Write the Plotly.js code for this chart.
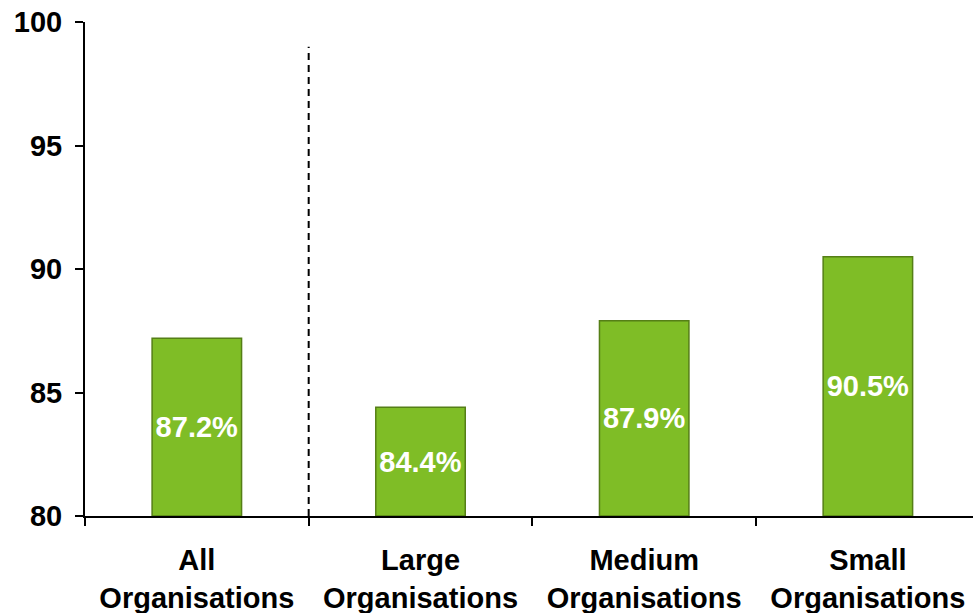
<!DOCTYPE html>
<html>
<head>
<meta charset="utf-8">
<script src="https://cdn.plot.ly/plotly-3.0.1.min.js"></script>
<style>html,body{margin:0;padding:0;background:#fff;}#chart{width:973px;height:613px;}</style>
</head>
<body>
<div id="chart"></div>
<script>
const categories = ["All<br>Organisations", "Large<br>Organisations", "Medium<br>Organisations", "Small<br>Organisations"];
const values = [87.2, 84.4, 87.9, 90.5];
const yTicks = [80, 85, 90, 95, 100];
const axisFloor = 80;

const font = "'Liberation Sans', Arial, sans-serif";

const trace = {
  type: "bar",
  x: categories,
  y: values.map(v => v - axisFloor),
  base: axisFloor,
  width: 0.4,
  marker: { color: "#7fbd26", line: { color: "#557f16", width: 1.5 } },
  text: values.map(v => v.toFixed(1) + "%"),
  textposition: "inside",
  insidetextanchor: "middle",
  textangle: 0,
  textfont: { family: font, size: 29, color: "#ffffff", weight: "bold" },
  hoverinfo: "skip"
};

const layout = {
  width: 973,
  height: 613,
  margin: { l: 85, r: 0, t: 22, b: 97 },
  paper_bgcolor: "#ffffff",
  plot_bgcolor: "#ffffff",
  showlegend: false,
  font: { family: font, color: "#000000" },
  xaxis: {
    type: "category",
    range: [-0.5, 3.47],
    showline: true,
    linecolor: "#000000",
    linewidth: 2,
    ticks: "outside",
    tickson: "boundaries",
    ticklen: 8,
    tickwidth: 2,
    tickcolor: "#000000",
    showgrid: false,
    zeroline: false,
    tickfont: { family: font, size: 29, color: "#000000", weight: "bold" },
    ticklabelstandoff: 17
  },
  yaxis: {
    range: [80, 100],
    tickvals: yTicks,
    ticktext: yTicks.map(String),
    showline: true,
    linecolor: "#000000",
    linewidth: 2,
    ticks: "outside",
    ticklen: 8,
    tickwidth: 2,
    tickcolor: "#000000",
    showgrid: false,
    zeroline: false,
    tickfont: { family: font, size: 29, color: "#000000", weight: "bold" },
    ticklabelstandoff: 7
  },
  shapes: [{
    type: "line",
    xref: "x", yref: "y",
    x0: 0.5, x1: 0.5, y0: 80, y1: 99,
    line: { color: "#000000", width: 2, dash: "7px,5px" }
  }]
};

Plotly.newPlot("chart", [trace], layout, { displayModeBar: false, staticPlot: true });
</script>
</body>
</html>
